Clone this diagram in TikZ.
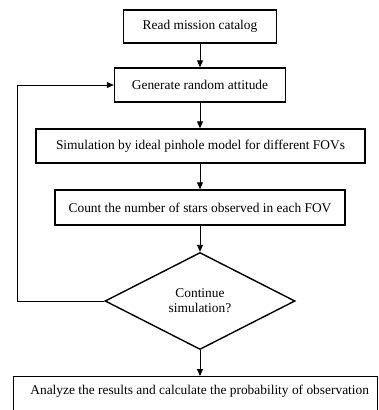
\documentclass[tikz,border=0pt]{standalone}
\usepackage{fontspec}
\setmainfont{Liberation Serif}
\usetikzlibrary{shapes.geometric,arrows.meta}
\begin{document}
\begin{tikzpicture}[x=1pt,y=-1pt,
  txt/.style={font=\fontsize{13.4}{15}\selectfont},
  box/.style={draw,line width=1.4pt,inner sep=0pt,txt},
  arr/.style={-{Triangle[length=7pt,width=6pt]},line width=0.9pt},
  dec/.style={draw,diamond,line width=1.4pt,inner sep=0pt,minimum width=190pt,minimum height=97pt,txt,align=center}]
\useasboundingbox (0,0) rectangle (379,410);
\clip (0,0) rectangle (379,410);
\node[box,minimum width=153pt,minimum height=33pt] (b1) at (200,26.5) {Read mission catalog};
\node[box,minimum width=171pt,minimum height=34pt] (b2) at (200,85) {Generate random attitude};
\node[box,minimum width=329pt,minimum height=34pt] (b3) at (200.5,146) {Simulation by ideal pinhole model for different FOVs};
\node[box,minimum width=290pt,minimum height=35pt] (b4) at (200,207.5) {Count the number of stars observed in each FOV};
\node[dec] (d) at (200,301) {Continue\\simulation?};
\node[box,minimum width=364pt,minimum height=50pt,anchor=north west,text depth=24pt] (b5) at (13,376) {\hspace{8pt}Analyze the results and calculate the probability of observation};
\coordinate (lp) at (17,301);
\draw[arr] (b1.south) -- (b2.north);
\draw[arr] (b2.south) -- (b2.south |- b3.north);
\draw[arr] (b2.south |- b3.south) -- (b2.south |- b4.north);
\draw[arr] (b4.south) -- (d.north);
\draw[arr] (d.south) -- (d.south |- b5.north);
\draw[arr] (d.west) -- (lp) |- (b2.west);
\end{tikzpicture}
\end{document}
